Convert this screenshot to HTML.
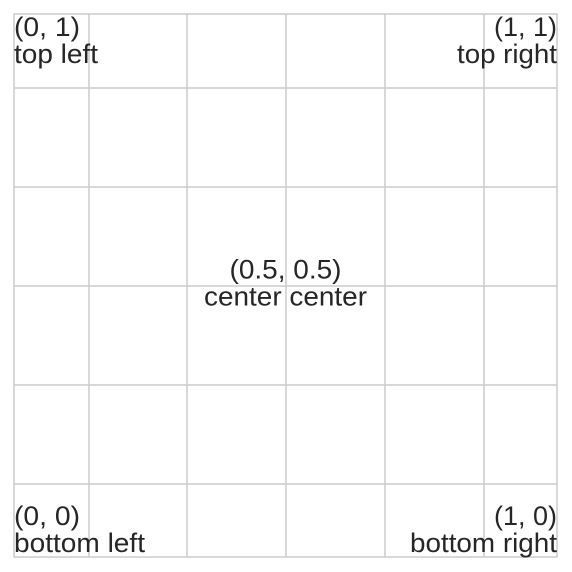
<!DOCTYPE html>
<html><head><meta charset="utf-8"><style>
html,body{margin:0;padding:0;background:#fff;}
svg{display:block;font-family:"Liberation Sans",Arial,sans-serif;}
</style></head><body>
<svg id="chart" width="572" height="572" viewBox="0 0 572 572" xmlns="http://www.w3.org/2000/svg">
<rect x="0" y="0" width="572" height="572" fill="#fff"/>
<g id="grid"></g>
<rect x="14" y="14" width="543" height="543" fill="none" stroke="#cccccc" stroke-width="1.5"/>
<g id="labels"></g>
</svg>
<script>
const gridX = [89, 187, 286, 385, 484];
const gridY = [88, 187, 286, 385, 484];
const xs = [0, 1, 0.5, 0, 1];
const ys = [1, 1, 0.5, 0, 0];
const line1 = ["(0, 1)", "(1, 1)", "(0.5, 0.5)", "(0, 0)", "(1, 0)"];
const line2 = ["top left", "top right", "center center", "bottom left", "bottom right"];
const ha = ["start", "end", "middle", "start", "end"];
const va = ["top", "top", "center", "bottom", "bottom"];
const w1 = [66, 63, 112, 66, 63];
const w2 = [84, 100, 163, 131, 147];

const NS = "http://www.w3.org/2000/svg";
const sx = v => 14 + 543 * v;
const sy = v => 557 - 543 * v;
const g = document.getElementById("grid");
gridX.forEach(x => {
  const l = document.createElementNS(NS, "line");
  
  
  l.setAttribute("x1", x); l.setAttribute("x2", x);
  l.setAttribute("y1", 14); l.setAttribute("y2", 557);
  l.setAttribute("stroke", "#cccccc"); l.setAttribute("stroke-width", "1.5");
  g.appendChild(l);
});
gridY.forEach(y => {
  const l = document.createElementNS(NS, "line");
  
  
  l.setAttribute("y1", y); l.setAttribute("y2", y);
  l.setAttribute("x1", 14); l.setAttribute("x2", 557);
  l.setAttribute("stroke", "#cccccc"); l.setAttribute("stroke-width", "1.5");
  g.appendChild(l);
});
const lg = document.getElementById("labels");
const off = {top: 22, center: -7, bottom: -32};
xs.forEach((xv, i) => {
  const x = sx(xv), b1 = sy(ys[i]) + off[va[i]];
  [[line1[i], b1, w1[i]], [line2[i], b1 + 27, w2[i]]].forEach(([t, b, w], k) => {
    const el = document.createElementNS(NS, "text");
    
    
    el.setAttribute("x", x); el.setAttribute("y", b);
    el.setAttribute("text-anchor", ha[i]);
    el.setAttribute("font-size", "27");
    el.setAttribute("fill", "#262626");
    el.setAttribute("textLength", w);
    el.setAttribute("lengthAdjust", "spacingAndGlyphs");
    el.textContent = t;
    lg.appendChild(el);
  });
});
</script>
</body></html>
